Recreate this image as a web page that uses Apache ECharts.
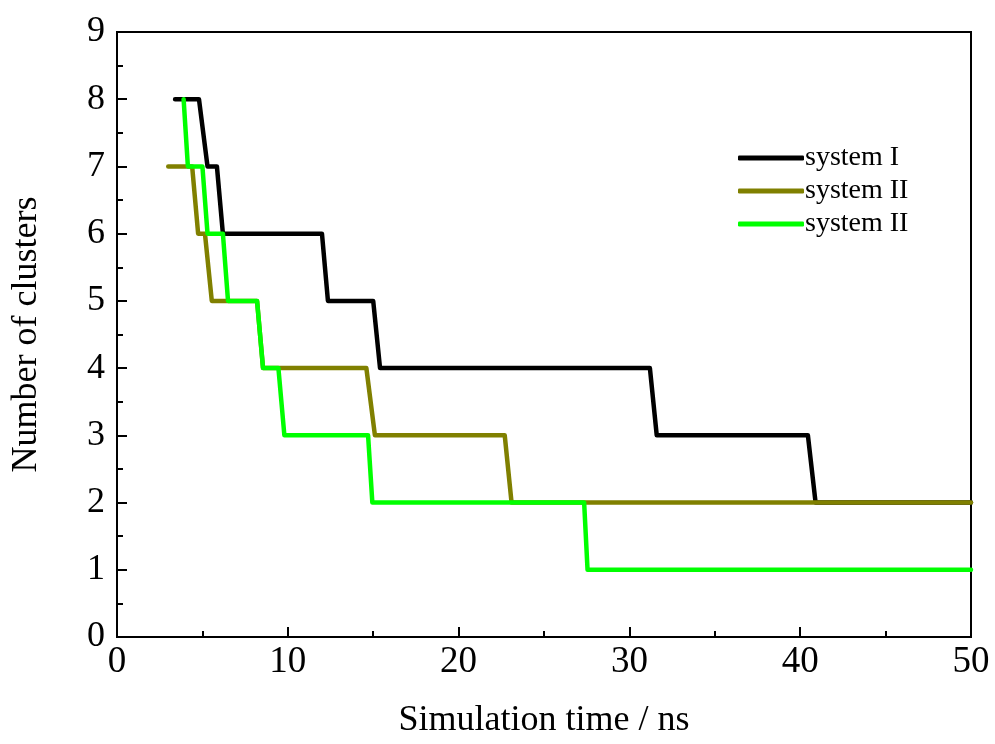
<!DOCTYPE html>
<html>
<head>
<meta charset="utf-8">
<script src="https://cdn.jsdelivr.net/npm/echarts@6/dist/echarts.min.js"></script>
<style>
  html, body { margin: 0; padding: 0; background: #fff; }
  #main { width: 995px; height: 744px; }
</style>
</head>
<body>
<div id="main"></div>
<script>
// step curves: time (ns) and cluster count at each corner
var sys1Time = [3.4, 4.8, 5.3, 5.85, 6.2, 12.0, 12.35, 15.0, 15.4, 31.2, 31.6, 40.45, 40.9, 50];
var sys1Num  = [8,   8,   7,   7,    6,   6,    5,     5,    4,    4,    3,    3,     2,    2];

var sys2Time = [3.0, 4.4, 4.75, 5.15, 5.55, 8.2, 8.55, 14.6, 15.1, 22.7, 23.1, 50];
var sys2Num  = [7,   7,   6,    6,    5,    5,   4,    4,    3,    3,    2,    2];

var sys3Time = [3.9, 4.15, 5.0, 5.3, 6.2, 6.5, 8.2, 8.55, 9.45, 9.8, 14.7, 14.95, 27.35, 27.55, 50];
var sys3Num  = [8,   7,    7,   6,   6,   5,   5,   4,    4,    3,   3,    2,     2,     1,     1];

var names = ['system I', 'system II', 'system II'];
var colors = ['#000000', '#808000', '#00ff00'];

function pairs(t, n) {
  var out = [];
  for (var i = 0; i < t.length; i++) out.push([t[i], n[i]]);
  return out;
}

var myChart = echarts.init(document.getElementById('main'));
var font = 'Liberation Serif';

var option = {
  animation: false,
  grid: {
    left: 117, right: 24, top: 32, bottom: 107,
    show: true, borderColor: '#000', borderWidth: 2
  },
  legend: {
    orient: 'vertical',
    left: 733, top: 139,
    itemWidth: 66, itemHeight: 5, itemGap: 5,
    icon: 'roundRect',
    textStyle: { fontFamily: font, fontSize: 28, color: '#000', padding: [0, 0, 0, -4] },
    data: [
      { name: 'system I', itemStyle: { color: colors[0] } },
      { name: 'system II', itemStyle: { color: colors[1] } },
      { name: 'system II ', itemStyle: { color: colors[2] } }
    ],
    formatter: function (n) { return n.trim(); }
  },
  xAxis: {
    type: 'value', min: 0, max: 50, interval: 10,
    name: 'Simulation time / ns',
    nameLocation: 'middle', nameGap: 66,
    nameTextStyle: { fontFamily: font, fontSize: 36, color: '#000' },
    axisLine: { lineStyle: { color: '#000', width: 2 } },
    axisTick: { inside: true, length: 10, lineStyle: { color: '#000', width: 2 } },
    minorTick: { show: true, splitNumber: 2, length: 6, lineStyle: { color: '#000', width: 2 } },
    axisLabel: { fontFamily: font, fontSize: 37, color: '#000', margin: 7 },
    splitLine: { show: false }
  },
  yAxis: {
    type: 'value', min: 0, max: 9, interval: 1,
    name: 'Number of clusters',
    nameLocation: 'middle', nameGap: 72,
    nameTextStyle: { fontFamily: font, fontSize: 36, color: '#000' },
    axisLine: { lineStyle: { color: '#000', width: 2 } },
    axisTick: { inside: true, length: 10, lineStyle: { color: '#000', width: 2 } },
    minorTick: { show: true, splitNumber: 2, length: 6, lineStyle: { color: '#000', width: 2 } },
    axisLabel: { fontFamily: font, fontSize: 36, color: '#000', margin: 12 },
    splitLine: { show: false }
  },
  series: [
    { name: 'system I', type: 'line', data: pairs(sys1Time, sys1Num) },
    { name: 'system II', type: 'line', data: pairs(sys2Time, sys2Num) },
    { name: 'system II ', type: 'line', data: pairs(sys3Time, sys3Num) }
  ].map(function (s, i) {
    s.showSymbol = false;
    s.symbol = 'none';
    s.lineStyle = { color: colors[i], width: 4.5, cap: 'round', join: 'round' };
    s.itemStyle = { color: colors[i] };
    return s;
  })
};
myChart.setOption(option);
</script>
</body>
</html>
